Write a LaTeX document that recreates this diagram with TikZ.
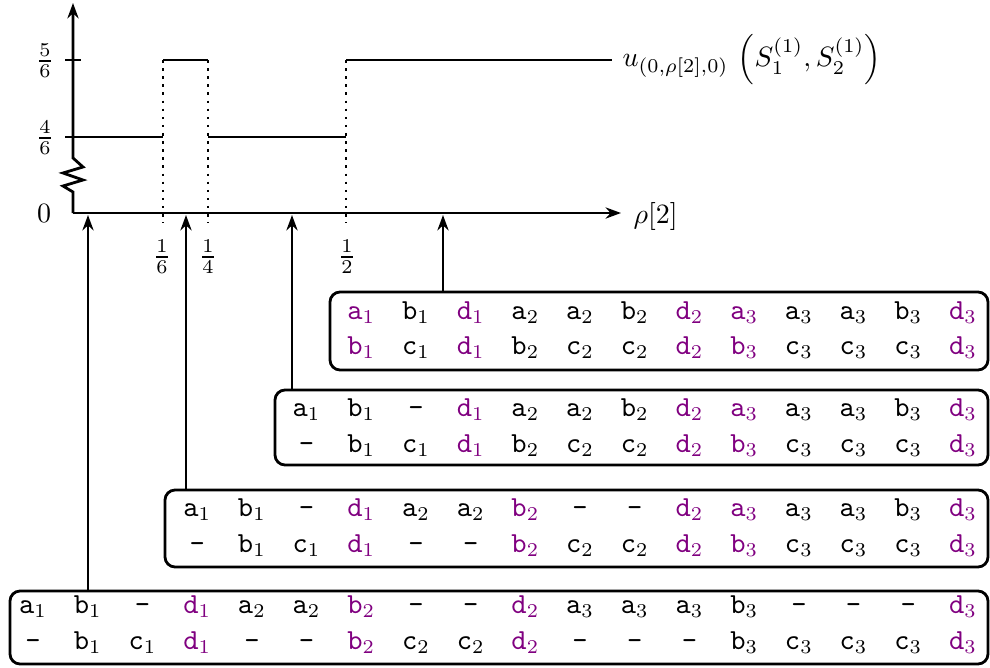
\documentclass[tikz,border=0pt]{standalone}
\usetikzlibrary{arrows.meta,fit}
\definecolor{vio}{RGB}{128,0,128}
\newcommand\Eb[2]{\texttt{#1}$_{#2}$}
\newcommand\Ep[2]{\textcolor{vio}{\texttt{#1}$_{#2}$}}
\newcommand\Em{\texttt{-}}
\newcommand\entrow[4]{%
  \foreach \ent [count=\i] in {#3} {
    \node[anchor=base, inner sep=0pt] (#4\i) at ({963-54.7*(#1-\i)},#2) {\ent};
  }}
\begin{document}
\begin{tikzpicture}[x=0.3576pt,y=-0.3576pt, line width=1pt,
  >={Stealth[length=5.5pt,width=4pt]},
  every node/.style={font=\fontsize{10.4pt}{12.5pt}\selectfont},
  boxst/.style={draw, rounded corners=3.6pt, inner sep=0pt},
  guide/.style={dotted, line width=0.9pt}]
\useasboundingbox (0,0) rectangle (990,668);
% axes
\coordinate (O) at (73,213);
\coordinate (ytop) at (73,3);
\coordinate (xend) at (621,213);
\draw[->] (O) -- (xend);
\draw[->, line join=miter] (O) -- (73,192) -- (63,186) -- (83,180) -- (63,173) -- (83,167) -- (73,158) -- (ytop);
% ticks
\draw (65,60) -- (81,60);
% step function
\draw (65,137) -- (163,137);
\draw (163,60) -- (208,60);
\draw (208,137) -- (346,137);
\draw (346,60) -- (612,60);
\draw[guide] (163,60) -- (163,223);
\draw[guide] (208,60) -- (208,223);
\draw[guide] (346,60) -- (346,223);
% labels
\node (l56) at (45,61) {$\frac56$};
\node (l46) at (45,138) {$\frac46$};
\node (l0) at (44,213) {$0$};
\node (x16) at (162,257) {$\frac16$};
\node (x14) at (208,257) {$\frac14$};
\node (x12) at (347,257) {$\frac12$};
\node[anchor=west] (xl) at (623,217) {$\rho[2]$};
\node[anchor=west] (ul) at (612,60) {$u_{(0,\rho[2],0)}\,\left(S_1^{(1)},S_2^{(1)}\right)$};
% boxes
\node[boxst, fit={(330,292) (988,370)}] (B1) {};
\node[boxst, fit={(275,390) (988,465)}] (B2) {};
\node[boxst, fit={(165,490) (988,567)}] (B3) {};
\node[boxst, fit={(10,591) (988,664)}] (B4) {};
% arrows
\coordinate (t1) at (443,215);
\coordinate (t2) at (292,215);
\coordinate (t3) at (186,215);
\coordinate (t4) at (88,215);
\draw[->] (B1.north -| t1) -- (t1);
\draw[->] (B2.north -| t2) -- (t2);
\draw[->] (B3.north -| t3) -- (t3);
\draw[->] (B4.north -| t4) -- (t4);
% entries
\entrow{12}{319}{\Ep a1,\Eb b1,\Ep d1,\Eb a2,\Eb a2,\Eb b2,\Ep d2,\Ep a3,\Eb a3,\Eb a3,\Eb b3,\Ep d3}{ba}
\entrow{12}{354}{\Ep b1,\Eb c1,\Ep d1,\Eb b2,\Eb c2,\Eb c2,\Ep d2,\Ep b3,\Eb c3,\Eb c3,\Eb c3,\Ep d3}{bb}
\entrow{13}{416}{\Eb a1,\Eb b1,\Em,\Ep d1,\Eb a2,\Eb a2,\Eb b2,\Ep d2,\Ep a3,\Eb a3,\Eb a3,\Eb b3,\Ep d3}{ca}
\entrow{13}{452}{\Em,\Eb b1,\Eb c1,\Ep d1,\Eb b2,\Eb c2,\Eb c2,\Ep d2,\Ep b3,\Eb c3,\Eb c3,\Eb c3,\Ep d3}{cb}
\entrow{15}{516}{\Eb a1,\Eb b1,\Em,\Ep d1,\Eb a2,\Eb a2,\Ep b2,\Em,\Em,\Ep d2,\Ep a3,\Eb a3,\Eb a3,\Eb b3,\Ep d3}{da}
\entrow{15}{552}{\Em,\Eb b1,\Eb c1,\Ep d1,\Em,\Em,\Ep b2,\Eb c2,\Eb c2,\Ep d2,\Ep b3,\Eb c3,\Eb c3,\Eb c3,\Ep d3}{db}
\entrow{18}{613}{\Eb a1,\Eb b1,\Em,\Ep d1,\Eb a2,\Eb a2,\Ep b2,\Em,\Em,\Ep d2,\Eb a3,\Eb a3,\Eb a3,\Eb b3,\Em,\Em,\Em,\Ep d3}{ea}
\entrow{18}{649}{\Em,\Eb b1,\Eb c1,\Ep d1,\Em,\Em,\Ep b2,\Eb c2,\Eb c2,\Ep d2,\Em,\Em,\Em,\Eb b3,\Eb c3,\Eb c3,\Eb c3,\Ep d3}{eb}
\end{tikzpicture}
\end{document}
